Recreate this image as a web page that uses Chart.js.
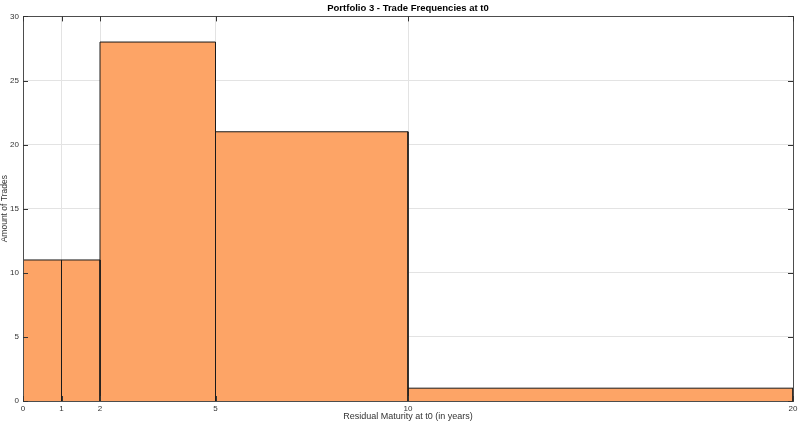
<!DOCTYPE html>
<html><head><meta charset="utf-8">
<script src="https://cdn.jsdelivr.net/npm/chart.js@4"></script>
<style>html,body{margin:0;padding:0;background:#fff}#wrap{width:801px;height:422px}</style>
</head><body><div id="wrap"><canvas id="c"></canvas></div>
<script>
const binEdges = [0, 1, 2, 5, 10, 20];
const counts = [11, 11, 28, 21, 1];
const xTicks = [0, 1, 2, 5, 10, 20];
const yTicks = [0, 5, 10, 15, 20, 25, 30];

const datasets = counts.map((h, i) => ({
  data: [{x: binEdges[i], y: 0}, {x: binEdges[i], y: h}, {x: binEdges[i+1], y: h}, {x: binEdges[i+1], y: 0}],
  showLine: true, fill: 'origin', backgroundColor: '#FDA466', borderColor: '#1a1a1a', borderWidth: 1,
  pointRadius: 0, tension: 0
}));

const frame = {
  id: 'frame',
  afterDraw(chart) {
    const {ctx, chartArea: a, scales} = chart;
    ctx.save();
    ctx.strokeStyle = '#4d4d4d'; ctx.lineWidth = 1;
    ctx.strokeRect(Math.round(a.left)+0.5, Math.round(a.top)+0.5, Math.round(a.right-a.left), Math.round(a.bottom-a.top));
    ctx.strokeStyle = '#333';
    xTicks.forEach(v => {
      const x = Math.round(scales.x.getPixelForValue(v)) + 0.5;
      ctx.beginPath(); ctx.moveTo(x, a.bottom); ctx.lineTo(x, a.bottom - 5); ctx.stroke();
      ctx.beginPath(); ctx.moveTo(x, a.top); ctx.lineTo(x, a.top + 5); ctx.stroke();
    });
    yTicks.forEach(v => {
      const y = Math.round(scales.y.getPixelForValue(v)) + 0.5;
      ctx.beginPath(); ctx.moveTo(a.left, y); ctx.lineTo(a.left + 5, y); ctx.stroke();
      ctx.beginPath(); ctx.moveTo(a.right, y); ctx.lineTo(a.right - 5, y); ctx.stroke();
    });
    ctx.restore();
  }
};

Chart.defaults.font.family = '"Liberation Sans", Arial, sans-serif';
new Chart(document.getElementById('c'), {
  type: 'scatter',
  data: { datasets },
  plugins: [frame],
  options: {
    responsive: true, maintainAspectRatio: false, animation: false,
    layout: { padding: { right: 8, left: 0, top: 0, bottom: 0 } },
    plugins: {
      legend: { display: false }, tooltip: { enabled: false },
      title: { display: true, fullSize: false, text: 'Portfolio 3 - Trade Frequencies at t0', color: '#000',
        font: { size: 9.5, weight: 'bold' }, padding: { top: 3, bottom: 2 } }
    },
    scales: {
      x: {
        type: 'linear', min: 0, max: 20,
        afterBuildTicks: s => { s.ticks = xTicks.map(v => ({value: v})); },
        afterFit: s => { s.height = 21; },
        grid: { color: '#e3e3e3', drawTicks: false },
        border: { display: false },
        ticks: { color: '#333', font: { size: 8 }, padding: 3, maxRotation: 0, autoSkip: false },
        title: { display: true, text: 'Residual Maturity at t0 (in years)', color: '#333', font: { size: 9 }, padding: { top: 0, bottom: 0 } }
      },
      y: {
        min: 0, max: 30,
        afterBuildTicks: s => { s.ticks = yTicks.map(v => ({value: v})); },
        afterFit: s => { s.width = 23; },
        grid: { color: '#e3e3e3', drawTicks: false },
        border: { display: false },
        ticks: { color: '#333', font: { size: 8 }, padding: 4 },
        title: { display: true, text: 'Amount of Trades', color: '#333', font: { size: 8.5 }, padding: { top: 0, bottom: 0 } }
      }
    }
  }
});
</script></body></html>
